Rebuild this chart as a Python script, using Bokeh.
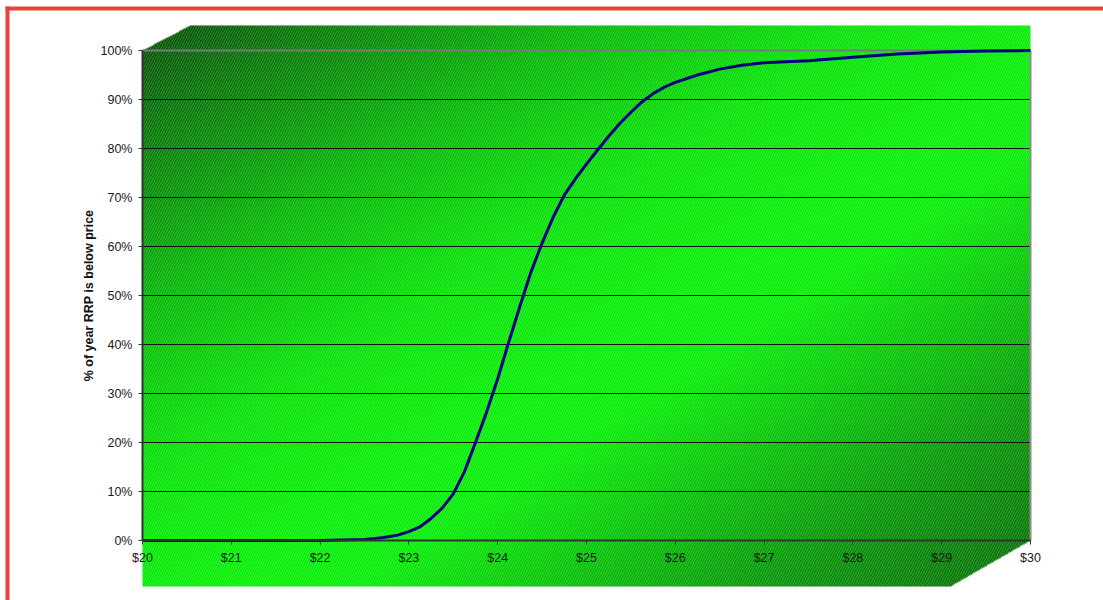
import numpy as np
from bokeh.plotting import figure
from bokeh.models import LinearAxis, FixedTicker, NumeralTickFormatter, Range1d
from bokeh.embed import file_html
from bokeh.resources import INLINE

# ---- data ----
price = [20, 20.5, 21, 21.5, 22, 22.25, 22.5, 22.625, 22.75, 22.875, 23, 23.125,
         23.25, 23.375, 23.5, 23.625, 23.75, 23.875, 24, 24.125, 24.25, 24.375,
         24.5, 24.625, 24.75, 24.875, 25, 25.125, 25.25, 25.375, 25.5, 25.625,
         25.75, 25.875, 26, 26.25, 26.5, 26.75, 27, 27.5, 28, 28.5, 29, 29.5, 30]
share = [0, 0, 0, 0, 0, 0.001, 0.002, 0.004, 0.007, 0.011, 0.018, 0.028,
         0.045, 0.066, 0.095, 0.140, 0.200, 0.262, 0.330, 0.405, 0.478, 0.548,
         0.607, 0.660, 0.705, 0.738, 0.768, 0.797, 0.825, 0.851, 0.874, 0.895,
         0.912, 0.925, 0.935, 0.950, 0.962, 0.970, 0.975, 0.979, 0.986, 0.993,
         0.997, 0.999, 1.0]
x_ticks = [20, 21, 22, 23, 24, 25, 26, 27, 28, 29, 30]
y_ticks = [0, 0.1, 0.2, 0.3, 0.4, 0.5, 0.6, 0.7, 0.8, 0.9, 1.0]
y_title = "% of year RRP is below price"

# ---- layout constants (pixels of the page) ----
W_FIG, H_FIG = 1103, 600
AX_L, AX_R = 142, 1030          # $20 .. $30
AX_T, AX_B = 50, 540            # 100% .. 0%
BG_T, BG_B = 25, 586            # green wall top / floor bottom
ppx = (AX_R - AX_L) / (x_ticks[-1] - x_ticks[0])
ppy = (AX_B - AX_T) / 1.0

x0 = x_ticks[0] - AX_L / ppx
x1 = x_ticks[0] + (W_FIG - AX_L) / ppx
y0 = -(H_FIG - AX_B) / ppy
y1 = 1 + AX_T / ppy

p = figure(width=W_FIG, height=H_FIG, x_range=Range1d(x0, x1), y_range=Range1d(y0, y1),
           x_axis_location=None, y_axis_location=None, toolbar_location=None,
           output_backend="svg", min_border=0, outline_line_color=None,
           background_fill_color="white", border_fill_color="white")
p.xgrid.visible = False
p.ygrid.visible = False

# ---- gradient background (3D wall + floor) ----
bg_top = 1 + (AX_T - BG_T) / ppy
bg_bot = -(BG_B - AX_B) / ppy
W, H = AX_R - AX_L, BG_B - BG_T
pxs = np.arange(W) + 0.5
pys = np.arange(H) + 0.5
U = pxs[None, :] / W
V = pys[:, None] / H
T = (U + V) / 2
stop_t = [0, 0.1, 0.25, 0.4, 0.55, 0.62, 0.72, 0.85, 1.0]
stop_g = [70, 118, 182, 226, 240, 236, 196, 146, 104]
G = np.interp(T, stop_t, stop_g)
cut_tl = 48
cut_br = 80
inside = ~((pys[:, None] < (AX_T - BG_T) - pxs[None, :] * (AX_T - BG_T) / cut_tl) |
           (pys[:, None] > (AX_B - BG_T) + (W - pxs[None, :]) * (BG_B - AX_B) / cut_br))
rgba = np.zeros((H, W, 4), dtype=np.uint8)
rgba[..., 1] = G.astype(np.uint8)
rgba[..., 3] = np.where(inside, 255, 0)
img = np.ascontiguousarray(rgba[::-1]).view(dtype=np.uint32).reshape(H, W)
p.image_rgba(image=[img], x=x_ticks[0], y=bg_bot, dw=x_ticks[-1] - x_ticks[0], dh=bg_top - bg_bot)

poly_x = [x_ticks[0], x_ticks[0] + cut_tl / ppx, x_ticks[-1], x_ticks[-1], x_ticks[-1] - cut_br / ppx, x_ticks[0]]
poly_y = [1.0, bg_top, bg_top, 0.0, bg_bot, bg_bot]
p.patch(poly_x, poly_y, fill_alpha=0, line_alpha=0, hatch_pattern="/",
        hatch_color="white", hatch_alpha=0.25, hatch_scale=5, hatch_weight=1)

# ---- gridlines ----
grid_colors = ["#111111"] * (len(y_ticks) - 1) + ["#7a7a7a"]
grid_widths = [1] * (len(y_ticks) - 1) + [2]
p.segment(x0=[x_ticks[0]] * len(y_ticks), x1=[x_ticks[-1]] * len(y_ticks), y0=y_ticks, y1=y_ticks,
          line_color=grid_colors, line_width=grid_widths)
# right wall edge
p.segment(x0=[x_ticks[-1]], x1=[x_ticks[-1]], y0=[y_ticks[0]], y1=[y_ticks[-1]],
          line_color="#8c8c8c", line_width=2)

# ---- curve ----
p.line(price, share, line_color="#000080", line_width=3, line_join="round")

# ---- red page border ----
RED = "#e8453a"
p.quad(left=[x0 + 5 / ppx], right=[x1 + 0.01], bottom=[y1 - 10 / ppy], top=[y1 - 6 / ppy],
       fill_color=RED, line_color=None)
p.quad(left=[x0 + 5 / ppx], right=[x0 + 9 / ppx], bottom=[y0 - 0.01], top=[y1 - 6 / ppy],
       fill_color=RED, line_color=None)

# ---- axes ----
FONT = "Liberation Sans"
yaxis = LinearAxis(fixed_location=x_ticks[0], bounds=(0, 1), ticker=FixedTicker(ticks=y_ticks),
                   formatter=NumeralTickFormatter(format="0%"), axis_label=y_title)
xaxis = LinearAxis(fixed_location=0, bounds=(x_ticks[0], x_ticks[-1]), ticker=FixedTicker(ticks=x_ticks),
                   formatter=NumeralTickFormatter(format="$0"))
for ax in (xaxis, yaxis):
    ax.axis_line_color = "#333333"
    ax.axis_line_width = 2
    ax.major_tick_line_color = "#333333"
    ax.major_tick_line_width = 1
    ax.major_tick_in = 0
    ax.major_tick_out = 4
    ax.minor_tick_line_color = None
    ax.major_label_text_font = FONT
    ax.major_label_text_font_size = "12.5px"
    ax.major_label_text_color = "#1a1a1a"
    ax.major_label_standoff = 6
yaxis.axis_label_text_font = FONT
yaxis.axis_label_text_font_size = "12.5px"
yaxis.axis_label_text_font_style = "bold"
yaxis.axis_label_text_color = "#111111"
yaxis.axis_label_standoff = 2
p.add_layout(yaxis, "left")
p.add_layout(xaxis, "below")

open("out.html", "w").write(file_html(p, INLINE))
